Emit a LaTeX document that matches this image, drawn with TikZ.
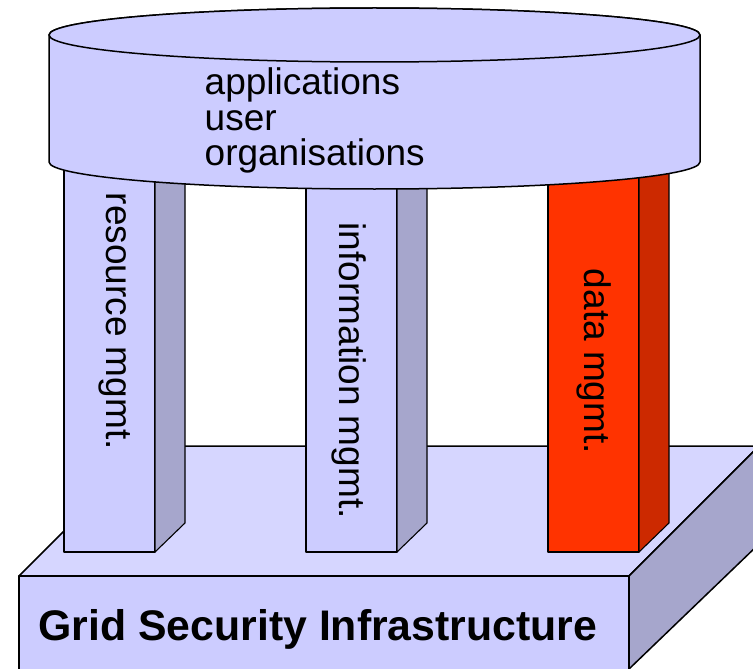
\documentclass[tikz,border=0pt]{standalone}
\usepackage{fontspec}
\setmainfont{Liberation Sans}
\definecolor{lav}{HTML}{CCCCFF}
\definecolor{lavtop}{HTML}{D6D6FF}
\definecolor{lavside}{HTML}{A6A6CC}
\definecolor{datafront}{HTML}{FF3300}
\definecolor{dataside}{HTML}{CC2900}
% one pillar: #1 = left x of the front face, #2 front colour, #3 side colour
\newcommand\drawpillar[3]{%
  \path[pedge,fill=#2] (#1,140) rectangle ({#1+91},552);
  \path[pedge,fill=#3] ({#1+91},140) -- ++(30,-30) -- ({#1+121},523) -- ({#1+91},552) -- cycle;}
\begin{document}
\begin{tikzpicture}[x=1pt,y=-1pt,
  edge/.style={draw=black,line width=1.5pt,line join=round},
  pedge/.style={draw=black,line width=1.1pt,line join=round},
  lbl/.style={font=\fontsize{37}{37}\selectfont,inner sep=0pt},
  pillarlabel/.style={lbl,rotate=-90,anchor=base west}]
\useasboundingbox (0,0) rectangle (753,669);
\clip (0,0) rectangle (753,669);
% base slab
\path[edge,fill=lavtop] (19,576) -- (149,446) -- (759,446) -- (629,576) -- cycle;
\path[edge,fill=lavside] (629,576) -- (759,446) -- (759,544) -- (629,669) -- cycle;
\path[edge,fill=lav] (19,576) rectangle (629,690);
% pillars
\drawpillar{64}{lav}{lavside}
\drawpillar{306}{lav}{lavside}
\drawpillar{548}{datafront}{dataside}
% disc on top
\path[edge,fill=lav] (49,35) -- (49,162)
  arc[start angle=180,end angle=360,x radius=325.5pt,y radius=27pt]
  -- (700,35)
  arc[start angle=0,end angle=180,x radius=325.5pt,y radius=27pt] -- cycle;
\path[edge,fill=lav] (374.5,35) ellipse[x radius=325.5pt,y radius=27pt];
% labels
\node[lbl,anchor=base west] (apps) at (204.5,95) {applications};
\node[lbl,anchor=base west] (user) at (204.5,130.3) {user};
\node[lbl,anchor=base west] (orgs) at (204.5,165.6) {organisations};
\node[pillarlabel] (res) at (106,192.5) {resource mgmt.};
\node[pillarlabel] (info) at (339,222.5) {information mgmt.};
\node[pillarlabel] (data) at (584,268.7) {data mgmt.};
\node[inner sep=0pt,anchor=base west,font=\bfseries\fontsize{42.8}{42.8}\selectfont] (gsi) at (38.2,640) {Grid Security Infrastructure};
\end{tikzpicture}
\end{document}
